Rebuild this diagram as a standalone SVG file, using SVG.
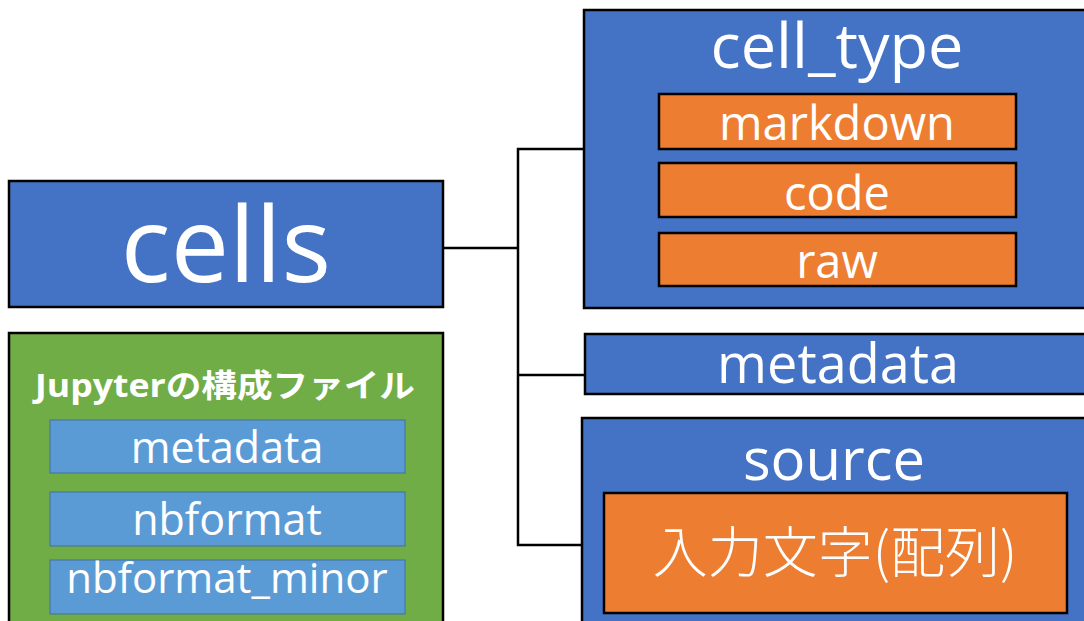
<svg xmlns="http://www.w3.org/2000/svg" width="1084" height="621" viewBox="0 0 1084 621">
  <style>
    .box { stroke: #000; stroke-width: 2.5; }
    .blue { fill: #4472C4; }
    .orange { fill: #ED7D31; }
    .green { fill: #70AD47; }
    .sub { fill: #5B9BD5; stroke: #41719C; stroke-width: 1; }
    .lbl { fill: #fff; font-family: "Open Sans", "Noto Sans", sans-serif; text-anchor: middle; }
    .jp { fill: #fff; font-family: "Noto Sans CJK JP", sans-serif; text-anchor: middle; }
    .wire { fill: none; stroke: #000; stroke-width: 2.5; }
  </style>

  <rect width="1084" height="621" fill="#fff"/>

  <!-- connectors: cells to its three members -->
  <g id="connectors">
    <path class="wire" d="M443 248 H518"/>
    <path class="wire" d="M584 149 H518 V545 H583"/>
    <path class="wire" d="M518 375 H585"/>
  </g>

  <g id="cells">
    <rect class="box blue" x="9" y="181" width="434" height="126"/>
    <text class="lbl" x="226" y="282" font-size="104">cells</text>
  </g>

  <g id="notebook-files">
    <rect class="box green" x="9" y="333" width="434" height="300"/>
    <text x="225" y="397" font-size="32" font-weight="bold" fill="#fff" text-anchor="middle" textLength="380" lengthAdjust="spacingAndGlyphs" font-family="'Open Sans', 'Noto Sans CJK JP', sans-serif">Jupyterの構成ファイル</text>
    <rect class="sub" x="50" y="420" width="355" height="53"/>
    <text class="lbl" x="227" y="463" font-size="43">metadata</text>
    <rect class="sub" x="50" y="492" width="355" height="54"/>
    <text class="lbl" x="227" y="535" font-size="43">nbformat</text>
    <rect class="sub" x="50" y="560" width="355" height="54"/>
    <text class="lbl" x="227" y="593" font-size="42">nbformat_minor</text>
  </g>

  <g id="cell-type">
    <rect class="box blue" x="584" y="10" width="520" height="298"/>
    <text class="lbl" x="837" y="68" font-size="63">cell_type</text>
    <rect class="box orange" x="659" y="94" width="357" height="55"/>
    <text class="lbl" x="837" y="140" font-size="47">markdown</text>
    <rect class="box orange" x="659" y="163" width="357" height="54"/>
    <text class="lbl" x="837" y="210" font-size="47">code</text>
    <rect class="box orange" x="659" y="233" width="357" height="53"/>
    <text class="lbl" x="837" y="278" font-size="47">raw</text>
  </g>

  <g id="metadata">
    <rect class="box blue" x="585" y="334" width="520" height="60"/>
    <text class="lbl" x="838" y="383" font-size="54">metadata</text>
  </g>

  <g id="source">
    <rect class="box blue" x="582" y="418" width="520" height="220"/>
    <text class="lbl" x="834" y="480" font-size="58">source</text>
    <rect class="box orange" x="604" y="493" width="463" height="120"/>
    <text class="jp" x="835" y="572" font-size="55" font-weight="300">入力文字(配列)</text>
  </g>
</svg>
